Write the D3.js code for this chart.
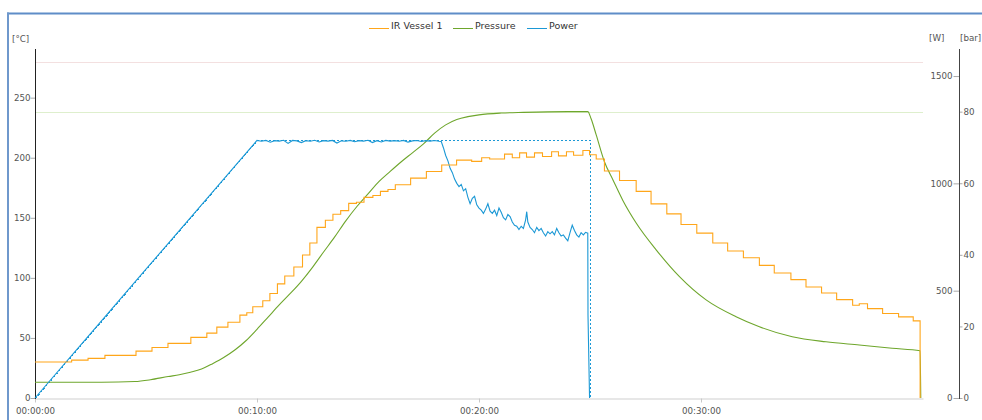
<!DOCTYPE html>
<html><head><meta charset="utf-8">
<script src="https://cdn.jsdelivr.net/npm/d3@7"></script>
<style>
html,body{margin:0;padding:0;background:#fff;}
svg{display:block;font-family:"DejaVu Sans",Verdana,sans-serif;}
</style></head>
<body><svg id="c" width="982" height="420"></svg>
<script>
// ---- data (time in minutes) ----
const seriesNames = ["IR Vessel 1", "Pressure", "Power"];
const timeTickValues = [0, 10, 20, 30];
const timeTickLabels = ["00:00:00", "00:10:00", "00:20:00", "00:30:00"];
const tempTicks = [0, 50, 100, 150, 200, 250];
const powerTicks = [0, 500, 1000, 1500];
const pressureTicks = [0, 20, 40, 60, 80];
const tempLimit = 280;
const pressureLimit = 80;

const tempTimes = [0,1.65,2.39,3.15,4.55,5.27,5.99,7.02,7.74,8.19,8.69,9.23,9.54,9.81,10.26,10.58,10.92,11.25,11.66,12.05,12.38,12.70,13.08,13.42,13.77,14.13,14.48,14.82,15.22,15.56,15.90,16.23,16.92,17.63,18.32,18.99,19.67,20.12,20.48,21.15,21.5,21.83,22.14,22.5,22.86,23.27,23.58,23.94,24.26,24.68,24.98,25.28,25.65,26.33,27.08,27.75,28.46,29.10,29.81,30.53,31.20,31.91,32.63,33.30,34.05,34.73,35.43,36.11,36.83,37.13,37.5,38.18,38.9,39.56,39.87];
const tempValues = [30,31.5,33,35.5,39,42,45.5,50.5,54,59,63,69,71,76,81,87,95,101.5,109,119,129,142,148,153,156,162,163,167,168.5,172,173.5,177.5,183,188.5,194,198,197,200,199,203,200,204,200.5,204,201,205,201.5,205,202,206,202.5,199,189,181,172,161.6,153.3,144.4,137.2,129,122.3,116.8,110.4,104,98.5,92.4,87.4,81.9,77.2,78.5,74.4,70.3,67.5,64.2,0];

const pressureTimes = [0,3,4.5,5.2,6.0,6.5,7.0,7.5,8.0,8.5,9.0,9.5,10.0,10.5,11.0,11.5,12.0,12.5,13.0,13.5,14.0,14.5,15.0,15.5,16.0,16.5,17.0,17.5,18.0,18.5,19.0,19.5,20.0,21.0,22.0,24.0,24.9,25.05,25.28,25.65,26.03,26.48,27.08,27.98,29.03,30.23,31.58,32.63,34.11,35.63,37.13,38.61,39.87,39.9];
const pressureValues = [4.4,4.4,4.6,5.1,6.0,6.5,7.2,8.1,9.6,11.3,13.4,16.0,19.2,22.6,26.0,29.2,32.6,36.5,40.8,45,49.5,53.5,57,60.5,63.3,66,68.5,71,74,76.3,77.8,78.6,79.1,79.6,79.8,80,80,78,73.5,66,61,55.2,48.9,41.4,33.9,27.4,22.7,19.9,17.1,15.7,14.8,13.9,13.2,0];

const powerTimes = [0,2.5,5,7.5,10,
  10.2,10.4,10.6,10.8,11,11.2,11.4,11.6,11.8,12,12.2,12.4,12.6,12.8,13,13.2,13.4,13.6,13.8,14,14.2,14.4,14.6,14.8,15,15.2,15.4,15.6,15.8,16,16.2,16.4,16.6,16.8,17,17.2,17.4,17.6,17.8,18,18.2,
  18.3,18.4,18.5,18.6,18.7,18.8,18.9,19.0,19.1,19.2,19.3,19.4,19.5,19.6,19.7,19.8,19.9,20.0,20.1,20.2,20.3,20.4,20.5,20.6,20.7,20.8,20.9,21.0,21.1,21.2,21.3,21.4,21.5,21.6,21.7,21.8,21.9,22.0,22.1,22.15,22.2,22.3,22.4,22.5,22.6,22.7,22.8,22.9,23.0,23.1,23.2,23.3,23.4,23.5,23.6,23.7,23.8,23.9,24.0,24.1,24.2,24.3,24.4,24.5,24.6,24.7,24.8,24.9,24.91,24.98];
const powerValues = [0,300,600,900,1200,
  1196,1200,1192,1199,1197,1201,1186,1200,1198,1190,1199,1196,1201,1193,1199,1197,1200,1188,1198,1196,1200,1194,1199,1197,1201,1190,1199,1193,1200,1197,1199,1196,1200,1192,1198,1200,1195,1199,1197,1200,1196,
  1195,1165,1130,1105,1070,1050,1020,1000,985,995,965,975,935,905,930,940,900,885,875,860,880,905,870,860,875,850,885,865,840,830,855,845,820,805,800,785,800,790,830,868,820,795,785,770,795,780,790,770,755,775,765,775,760,790,770,755,760,745,732,770,805,780,760,750,770,760,772,768,385,0];

const powerSetTimes = [0,10,24.98,24.98];
const powerSetValues = [0,1200,1200,0];

const colors = {temp:"#ffa61a", pressure:"#6ea62c", power:"#1b98d5"};

// ---- layout ----
const svg = d3.select("#c");
const x0 = 35, x1 = 923, yTop = 49, yBot = 398, xRight = 959;

const x = d3.scaleLinear().domain([0,40]).range([x0,x1]);
const yT = d3.scaleLinear().domain([0,290.5]).range([yBot,yTop]);
const yW = d3.scaleLinear().domain([0,1626]).range([yBot,yTop]);
const yP = d3.scaleLinear().domain([0,97.5]).range([yBot,yTop]);

// frame
svg.append("line").attr("x1",7).attr("x2",982).attr("y1",13.5).attr("y2",13.5)
  .attr("stroke","#5f8dc8").attr("stroke-width",2);
svg.append("line").attr("x1",8).attr("x2",8).attr("y1",12.5).attr("y2",420)
  .attr("stroke","#6f98cc").attr("stroke-width",2);

// limit lines
svg.append("line").attr("x1",x0).attr("x2",x1).attr("y1",Math.round(yT(tempLimit))+0.5).attr("y2",Math.round(yT(tempLimit))+0.5)
  .attr("stroke","#f3e0e0").attr("stroke-width",1);
svg.append("line").attr("x1",x0).attr("x2",x1).attr("y1",Math.round(yP(pressureLimit))+0.5).attr("y2",Math.round(yP(pressureLimit))+0.5)
  .attr("stroke","#deefcd").attr("stroke-width",1);

// bottom axis
const gx = svg.append("g").attr("transform",`translate(0,${yBot+0.5})`)
  .call(d3.axisBottom(x).tickValues(timeTickValues).tickSize(4).tickSizeOuter(0)
    .tickFormat((d,i)=>timeTickLabels[i]));
gx.select(".domain").attr("stroke","#cfcfcf");
gx.selectAll(".tick line").attr("stroke","#c8c8c8");
gx.selectAll(".tick text").attr("fill","#555").attr("font-size","8.7px")
  .attr("font-family","DejaVu Sans").attr("dy","0.95em");

// left axis
const gl = svg.append("g").attr("transform",`translate(${x0+0.5},0)`)
  .call(d3.axisLeft(yT).tickValues(tempTicks).tickSize(5).tickSizeOuter(0).tickFormat(d3.format("d")));
gl.select(".domain").remove();
gl.selectAll(".tick line").attr("stroke","#aaa");
gl.selectAll(".tick text").attr("fill","#555").attr("font-size","8.7px").attr("font-family","DejaVu Sans").attr("x",-5);
svg.append("line").attr("x1",x0+0.5).attr("x2",x0+0.5).attr("y1",yTop).attr("y2",yBot+1)
  .attr("stroke","#222").attr("stroke-width",1);

// right axes
const gw = svg.append("g").attr("transform",`translate(${xRight+0.5},0)`)
  .call(d3.axisLeft(yW).tickValues(powerTicks).tickSize(6).tickSizeOuter(0).tickFormat(d3.format("d")));
gw.select(".domain").remove();
gw.selectAll(".tick line").attr("stroke","#aaa");
gw.selectAll(".tick text").attr("fill","#555").attr("font-size","8.7px").attr("font-family","DejaVu Sans").attr("x",-7);
const gp = svg.append("g").attr("transform",`translate(${xRight+0.5},0)`)
  .call(d3.axisRight(yP).tickValues(pressureTicks).tickSize(3).tickSizeOuter(0).tickFormat(d3.format("d")));
gp.select(".domain").remove();
gp.selectAll(".tick line").attr("stroke","#aaa");
gp.selectAll(".tick text").attr("fill","#555").attr("font-size","8.7px").attr("font-family","DejaVu Sans").attr("x",4);
svg.append("line").attr("x1",xRight+0.5).attr("x2",xRight+0.5).attr("y1",yTop).attr("y2",yBot+1)
  .attr("stroke","#444").attr("stroke-width",1);

// unit labels
const unitStyle = s => s.attr("fill","#555").attr("font-size","8.7px").attr("font-family","DejaVu Sans");
svg.append("text").attr("x",12).attr("y",41.5).text("[°C]").call(unitStyle);
svg.append("text").attr("x",929).attr("y",41).text("[W]").call(unitStyle);
svg.append("text").attr("x",960).attr("y",41).text("[bar]").call(unitStyle);

// series
const mk = (ts, vs) => ts.map((t,i)=>[t, vs[i]]);
const plot = svg.append("g");

plot.append("path").datum(mk(powerSetTimes, powerSetValues))
  .attr("d", d3.line().x(d=>Math.round(x(d[0]))+0.5).y(d=>Math.round(yW(d[1]))+0.5))
  .attr("fill","none").attr("stroke",colors.power).attr("stroke-width",1)
  .attr("stroke-dasharray","2,2").attr("shape-rendering","crispEdges");

plot.append("path").datum(mk(pressureTimes, pressureValues))
  .attr("d", d3.line().curve(d3.curveMonotoneX).x(d=>x(d[0])).y(d=>yP(d[1])))
  .attr("fill","none").attr("stroke",colors.pressure).attr("stroke-width",1.1);

plot.append("path").datum(mk(powerTimes, powerValues))
  .attr("d", d3.line().x(d=>x(d[0])).y(d=>yW(d[1])))
  .attr("fill","none").attr("stroke",colors.power).attr("stroke-width",1.1);

plot.append("path").datum(mk(tempTimes, tempValues))
  .attr("d", d3.line().curve(d3.curveStepAfter).x(d=>x(d[0])).y(d=>yT(d[1])))
  .attr("fill","none").attr("stroke",colors.temp).attr("stroke-width",1.1);

// legend
const legendX = [369, 453, 527];
const legendColors = [colors.temp, colors.pressure, colors.power];
const lg = svg.append("g");
seriesNames.forEach((n,i)=>{
  lg.append("line").attr("x1",legendX[i]).attr("x2",legendX[i]+20).attr("y1",28.5).attr("y2",28.5)
    .attr("stroke",legendColors[i]).attr("stroke-width",1);
  lg.append("text").attr("x",legendX[i]+22).attr("y",28.5).text(n)
    .attr("fill","#333").attr("font-size","9.5px").attr("font-family","DejaVu Sans");
});
</script></body></html>
